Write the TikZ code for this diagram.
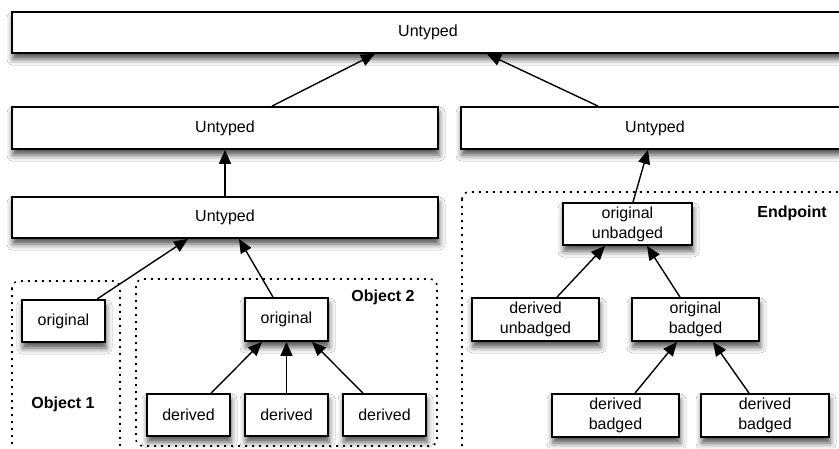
\documentclass[tikz,border=0pt]{standalone}
\usepackage{fontspec}
\setmainfont{Liberation Sans}
\usetikzlibrary{arrows.meta,shadows.blur}
\begin{document}
\begin{tikzpicture}[x=1pt,y=-1pt,
  box/.style={draw=black,line width=1.8pt,fill=white,inner sep=0pt,align=center,
    font=\fontsize{16}{20}\selectfont,
    blur shadow={shadow xshift=1pt,shadow yshift=-6pt,shadow blur radius=6pt,shadow opacity=70}},
  conn/.style={line width=1.4pt,-{Triangle[length=14pt,width=12pt]}},
  frame/.style={line width=1.6pt,dash pattern=on 2pt off 5pt,rounded corners=7pt},
  lbl/.style={font=\bfseries\fontsize{16}{20}\selectfont,inner sep=0pt}]
\clip (0,0) rectangle (839,448);
\fill[white] (0,0) rectangle (839,448);

% frames
\draw[frame] (12,281) rectangle (120,470);
\draw[frame] (136,279) rectangle (437,446);
\draw[frame] (462,192) rectangle (870,470);

% boxes
\node[box,minimum width=832pt,minimum height=41pt] (top) at (428,32.5) {Untyped};
\node[box,minimum width=426pt,minimum height=42pt] (l2a) at (225,128) {Untyped};
\node[box,minimum width=388pt,minimum height=42pt] (l2b) at (655,128) {Untyped};
\node[box,minimum width=426pt,minimum height=41pt] (l3) at (225,217.5) {Untyped};

\node[box,minimum width=83pt,minimum height=42pt] (o1) at (63.5,321) {original};
\node[box,minimum width=83pt,minimum height=43pt] (o2) at (286.5,319.5) {original};
\node[box,minimum width=83pt,minimum height=42pt] (d1) at (188.5,415) {derived};
\node[box,minimum width=83pt,minimum height=42pt] (d2) at (286.5,415) {derived};
\node[box,minimum width=83pt,minimum height=42pt] (d3) at (384.5,415) {derived};

\node[box,minimum width=129pt,minimum height=42pt] (ou) at (627.5,224) {original\\unbadged};
\node[box,minimum width=127pt,minimum height=43pt] (du) at (535.5,319.5) {derived\\unbadged};
\node[box,minimum width=127pt,minimum height=43pt] (ob) at (695.5,319.5) {original\\badged};
\node[box,minimum width=127pt,minimum height=43pt] (db1) at (615.5,415.5) {derived\\badged};
\node[box,minimum width=128pt,minimum height=43pt] (db2) at (765,415.5) {derived\\badged};

% labels
\node[lbl] (lo1) at (63,404) {Object 1};
\node[lbl] (lo2) at (383,297) {Object 2};
\node[lbl] (lep) at (792,213) {Endpoint};

% connectors
\draw[conn] ([xshift=47pt]l2a.north) -- ([xshift=-53pt]top.south);
\draw[conn] ([xshift=-57pt]l2b.north) -- ([xshift=59pt]top.south);
\draw[conn] (l3.north) -- (l2a.south);
\draw[conn] ([xshift=5.5pt]ou.north) -- ([xshift=-7pt]l2b.south);
\draw[conn] ([xshift=33.5pt]o1.north) -- ([xshift=-37pt]l3.south);
\draw[conn] ([xshift=-13.5pt]o2.north) -- ([xshift=14pt]l3.south);
\draw[conn] ([xshift=22.5pt]d1.north) -- ([xshift=-24.5pt]o2.south);
\draw[conn] (d2.north) -- (o2.south);
\draw[conn] ([xshift=-21.5pt]d3.north) -- ([xshift=25.5pt]o2.south);
\draw[conn] ([xshift=21.5pt]du.north) -- ([xshift=-22.5pt]ou.south);
\draw[conn] ([xshift=-15.5pt]ob.north) -- ([xshift=19.5pt]ou.south);
\draw[conn] ([xshift=19.5pt]db1.north) -- ([xshift=-18.5pt]ob.south);
\draw[conn] ([xshift=-16pt]db2.north) -- ([xshift=17.5pt]ob.south);
\end{tikzpicture}
\end{document}
